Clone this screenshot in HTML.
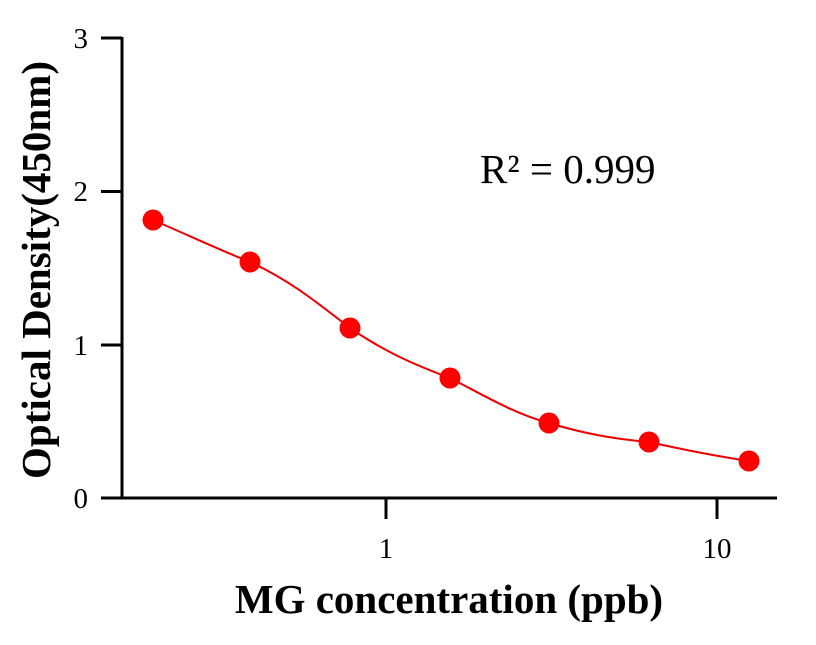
<!DOCTYPE html>
<html><head><style>body{margin:0;background:#fff}</style></head><body>
<svg width="816" height="640" xmlns="http://www.w3.org/2000/svg" font-family="Liberation Serif, serif">
<rect width="816" height="640" fill="#fff"/>
<g stroke="#000" stroke-width="3" fill="none">
<path d="M122 37 V499 M120.5 498 H777"/>
<path d="M101 38 H122 M101 191.5 H122 M101 345 H122 M101 498 H122"/>
<path d="M386 498 V519 M717 498 V519"/>
</g>
<g font-size="29" fill="#000" text-anchor="end">
<text x="88" y="48">3</text><text x="88" y="201">2</text><text x="88" y="355">1</text><text x="88" y="508">0</text>
</g>
<g font-size="29" fill="#000" text-anchor="middle">
<text x="386" y="558">1</text><text x="717" y="558">10</text>
</g>
<text x="449" y="613" font-size="41" font-weight="bold" text-anchor="middle">MG concentration (ppb)</text>
<text transform="translate(50,270) rotate(-90)" font-size="41" font-weight="bold" text-anchor="middle">Optical Density(450nm)</text>
<text x="480" y="183" font-size="41">R² = 0.999</text>
<path d="M153 220 C190 236 220 250 250 262 C290 280 320 305 350 328 C385 352 415 365 450 378 C485 396 515 414 549 423 C585 434 615 439 649 442 C685 450 715 456 749 461" stroke="#e00" stroke-width="2" fill="none"/>
<g fill="#f00">
<circle cx="153" cy="220" r="10.5"/><circle cx="250" cy="262" r="10.5"/><circle cx="350" cy="328" r="10.5"/><circle cx="450" cy="378" r="10.5"/><circle cx="549" cy="423" r="10.5"/><circle cx="649" cy="442" r="10.5"/><circle cx="749" cy="461" r="10.5"/>
</g>
</svg>
</body></html>
